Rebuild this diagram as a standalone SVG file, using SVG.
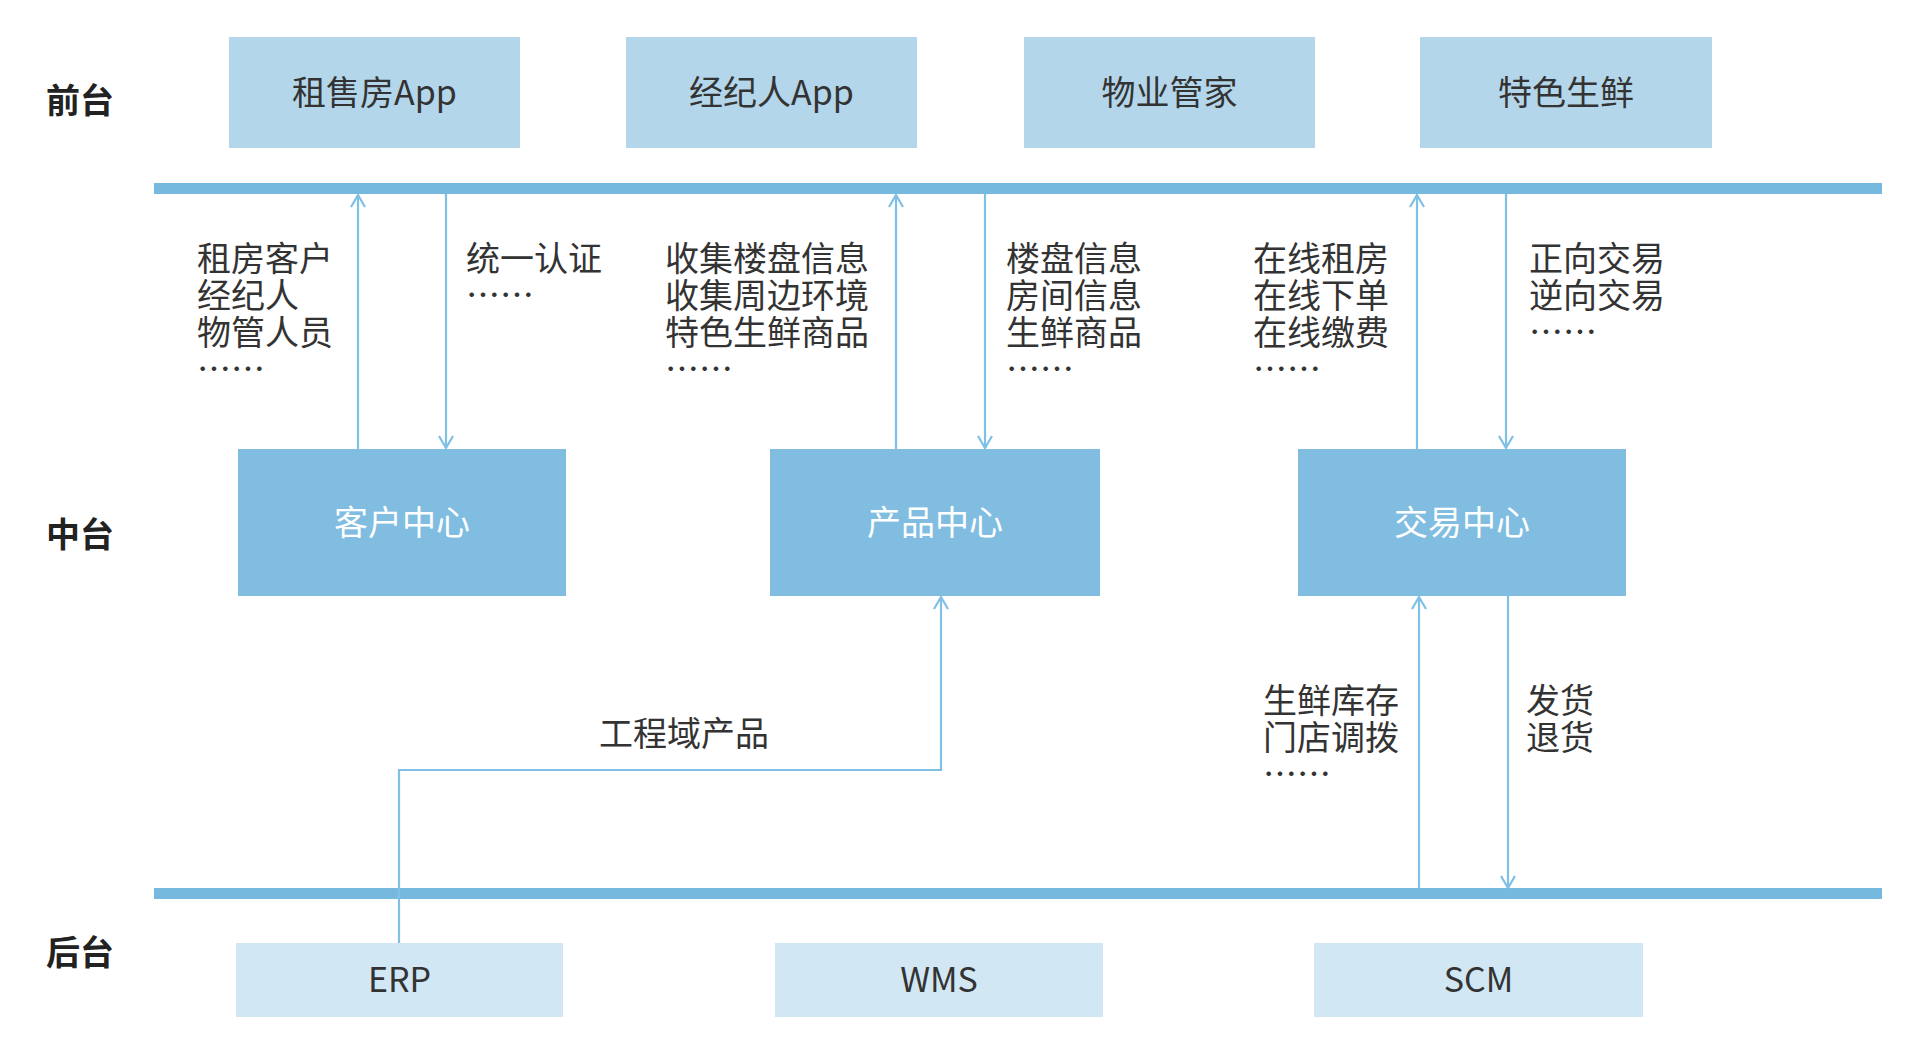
<svg xmlns="http://www.w3.org/2000/svg" width="1920" height="1058" viewBox="0 0 1920 1058">
<style>
  .t { font-family: "Noto Sans CJK SC", "Liberation Sans", sans-serif; font-size: 34px; fill: #333333; }
  .row { font-family: "Noto Sans CJK SC", "Liberation Sans", sans-serif; font-size: 34px; fill: #222222; font-weight: bold; }
  .wt { font-family: "Noto Sans CJK SC", "Liberation Sans", sans-serif; font-size: 34px; fill: #ffffff; }
  .front { fill: #b4d6ea; }
  .mid { fill: #80bde1; }
  .back { fill: #d2e7f4; }
  .bar { fill: #76b9df; }
  .conn { stroke: #7fc0e4; stroke-width: 2.2; fill: none; }
</style>
<defs>
  <marker id="arr" viewBox="0 0 14 16" refX="13" refY="8" markerWidth="14" markerHeight="16" markerUnits="userSpaceOnUse" orient="auto">
    <path d="M1,1 L13,8 L1,15" fill="none" stroke="#7fc0e4" stroke-width="2.2"/>
  </marker>
</defs>
<rect width="1920" height="1058" fill="#ffffff"/>

<g id="row-labels">
  <text class="row" x="46" y="113">前台</text>
  <text class="row" x="46" y="547">中台</text>
  <text class="row" x="46" y="965">后台</text>
</g>

<g id="bars">
  <rect id="bar-top" class="bar" x="154" y="183" width="1728" height="11"/>
  <rect id="bar-bottom" class="bar" x="154" y="888" width="1728" height="11"/>
</g>

<g id="front-1"><rect class="front" x="229" y="37" width="291" height="111"/><text class="t" x="374.5" y="105" text-anchor="middle">租售房App</text></g>
<g id="front-2"><rect class="front" x="626" y="37" width="291" height="111"/><text class="t" x="771.5" y="105" text-anchor="middle">经纪人App</text></g>
<g id="front-3"><rect class="front" x="1024" y="37" width="291" height="111"/><text class="t" x="1169.5" y="105" text-anchor="middle">物业管家</text></g>
<g id="front-4"><rect class="front" x="1420" y="37" width="292" height="111"/><text class="t" x="1566" y="105" text-anchor="middle">特色生鲜</text></g>

<g id="mid-1"><rect class="mid" x="238" y="449" width="328" height="147"/><text class="wt" x="402" y="535" text-anchor="middle">客户中心</text></g>
<g id="mid-2"><rect class="mid" x="770" y="449" width="330" height="147"/><text class="wt" x="935" y="535" text-anchor="middle">产品中心</text></g>
<g id="mid-3"><rect class="mid" x="1298" y="449" width="328" height="147"/><text class="wt" x="1462" y="535" text-anchor="middle">交易中心</text></g>

<g id="back-1"><rect class="back" x="236" y="943" width="327" height="74"/><text class="t" x="399.5" y="992" text-anchor="middle">ERP</text></g>
<g id="back-2"><rect class="back" x="775" y="943" width="328" height="74"/><text class="t" x="939" y="992" text-anchor="middle">WMS</text></g>
<g id="back-3"><rect class="back" x="1314" y="943" width="329" height="74"/><text class="t" x="1478.5" y="992" text-anchor="middle">SCM</text></g>

<g id="connectors">
  <line class="conn" x1="358" y1="449" x2="358" y2="195" marker-end="url(#arr)"/>
  <line class="conn" x1="446" y1="194" x2="446" y2="448" marker-end="url(#arr)"/>
  <line class="conn" x1="896" y1="449" x2="896" y2="195" marker-end="url(#arr)"/>
  <line class="conn" x1="985" y1="194" x2="985" y2="448" marker-end="url(#arr)"/>
  <line class="conn" x1="1417" y1="449" x2="1417" y2="195" marker-end="url(#arr)"/>
  <line class="conn" x1="1506" y1="194" x2="1506" y2="448" marker-end="url(#arr)"/>
  <line class="conn" x1="1419" y1="888" x2="1419" y2="597" marker-end="url(#arr)"/>
  <line class="conn" x1="1508" y1="596" x2="1508" y2="888" marker-end="url(#arr)"/>
  <path class="conn" d="M399,943 V770 H941 V597" marker-end="url(#arr)"/>
</g>

<g id="labels">
  <text class="t" x="197" y="271"><tspan x="197">租房客户</tspan><tspan x="197" dy="37">经纪人</tspan><tspan x="197" dy="37">物管人员</tspan><tspan x="197" dy="37">……</tspan></text>
  <text class="t" x="466" y="271"><tspan x="466">统一认证</tspan><tspan x="466" dy="37">……</tspan></text>
  <text class="t" x="665" y="271"><tspan x="665">收集楼盘信息</tspan><tspan x="665" dy="37">收集周边环境</tspan><tspan x="665" dy="37">特色生鲜商品</tspan><tspan x="665" dy="37">……</tspan></text>
  <text class="t" x="1006" y="271"><tspan x="1006">楼盘信息</tspan><tspan x="1006" dy="37">房间信息</tspan><tspan x="1006" dy="37">生鲜商品</tspan><tspan x="1006" dy="37">……</tspan></text>
  <text class="t" x="1253" y="271"><tspan x="1253">在线租房</tspan><tspan x="1253" dy="37">在线下单</tspan><tspan x="1253" dy="37">在线缴费</tspan><tspan x="1253" dy="37">……</tspan></text>
  <text class="t" x="1529" y="271"><tspan x="1529">正向交易</tspan><tspan x="1529" dy="37">逆向交易</tspan><tspan x="1529" dy="37">……</tspan></text>
  <text class="t" x="599" y="746">工程域产品</text>
  <text class="t" x="1263" y="713"><tspan x="1263">生鲜库存</tspan><tspan x="1263" dy="37">门店调拨</tspan><tspan x="1263" dy="37">……</tspan></text>
  <text class="t" x="1526" y="713"><tspan x="1526">发货</tspan><tspan x="1526" dy="37">退货</tspan></text>
</g>
</svg>
